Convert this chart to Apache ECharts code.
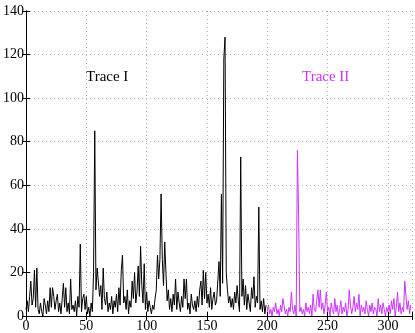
<!DOCTYPE html>
<html>
<head>
<meta charset="utf-8">
<script src="https://cdn.jsdelivr.net/npm/echarts@6/dist/echarts.min.js"></script>
<style>
html, body { margin: 0; padding: 0; background: #fff; }
#chart { width: 415px; height: 333px; }
</style>
</head>
<body>
<div id="chart"></div>
<script>
// Trace I, x = 0..199
const trace1 = [
  3, 7, 2, 9, 16, 5, 8, 21, 4, 22,
  3, 1, 6, 2, 0, 8, 5, 1, 7, 2,
  13, 4, 13, 9, 3, 7, 10, 2, 6, 1,
  8, 15, 4, 13, 2, 6, 1, 17, 3, 5,
  2, 7, 0, 9, 4, 33, 2, 8, 10, 3,
  9, 1, 4, 0, 6, 2, 20, 85, 12, 22,
  22, 9, 14, 3, 22, 8, 5, 11, 2, 6,
  3, 9, 1, 7, 4, 10, 2, 13, 5, 21,
  28, 6, 9, 3, 12, 1, 7, 4, 16, 8,
  20, 6, 11, 23, 9, 32, 14, 6, 24, 3,
  11, 2, 7, 4, 1, 5, 3, 8, 12, 28,
  17, 26, 56, 26, 14, 34, 20, 7, 12, 3,
  8, 2, 10, 5, 17, 3, 11, 6, 2, 9,
  4, 17, 8, 17, 3, 6, 1, 10, 5, 3,
  7, 2, 9, 4, 12, 16, 5, 21, 8, 20,
  6, 10, 4, 13, 3, 8, 11, 5, 7, 16,
  25, 9, 56, 15, 118, 128, 20, 12, 6, 9,
  4, 8, 3, 11, 6, 14, 7, 2, 73, 9,
  17, 5, 14, 3, 10, 6, 2, 13, 8, 18,
  4, 9, 6, 50, 3, 7, 2, 8, 1, 5
];
const trace1Start = 0;

// Trace II, x = 200..319
const trace2 = [
  2, 5, 1, 3, 0, 4, 2, 6, 1, 3,
  0, 5, 2, 8, 8, 1, 3, 0, 4, 2,
  11, 3, 1, 5, 0, 76, 46, 2, 4, 1,
  3, 0, 6, 2, 4, 1, 5, 0, 10, 3,
  2, 7, 12, 4, 12, 3, 6, 1, 5, 11,
  2, 4, 0, 6, 3, 1, 8, 2, 5, 0,
  3, 7, 1, 4, 2, 6, 0, 3, 12, 5,
  1, 4, 9, 2, 6, 3, 10, 0, 5, 2,
  4, 1, 7, 3, 0, 5, 2, 6, 1, 4,
  3, 0, 8, 2, 5, 1, 6, 3, 0, 4,
  2, 5, 1, 7, 3, 8, 0, 4, 11, 2,
  6, 1, 4, 2, 16, 9, 3, 7, 1, 5
];
const trace2Start = 200;

const xTicks = [0, 50, 100, 150, 200, 250, 300];
const yTicks = [0, 20, 40, 60, 80, 100, 120, 140];

const font = 'Liberation Serif, Times New Roman, serif';
const purple = '#cc33ff';

function pairs(vals, start) {
  return vals.map((v, i) => [start + i, v]);
}

const chart = echarts.init(document.getElementById('chart'));

const axisCommon = {
  type: 'value',
  axisLine: { show: true, lineStyle: { color: '#000', width: 1 } },
  axisTick: { show: true, inside: true, length: 4, lineStyle: { color: '#000' } }
};

chart.setOption({
  animation: false,
  grid: { left: 23, right: 3, top: 11, bottom: 15, containLabel: false },
  xAxis: [
    Object.assign({}, axisCommon, {
      min: xTicks[0], max: 320, interval: 50,
      axisLabel: { color: '#000', fontFamily: font, fontSize: 14, margin: 3,
        formatter: v => xTicks.includes(v) ? String(v) : '' },
      splitLine: { show: true, lineStyle: { color: '#b0b0b0', type: [1, 3], width: 1 } }
    }),
    Object.assign({}, axisCommon, {
      position: 'top', min: 0, max: 320, interval: 50,
      axisLabel: { show: false }, splitLine: { show: false }
    })
  ],
  yAxis: [
    Object.assign({}, axisCommon, {
      min: yTicks[0], max: yTicks[yTicks.length - 1], interval: 20,
      axisLabel: { color: '#000', fontFamily: font, fontSize: 14, margin: 2 },
      splitLine: { show: true, lineStyle: { color: '#b0b0b0', type: [1, 3], width: 1 } }
    }),
    Object.assign({}, axisCommon, {
      position: 'right', min: 0, max: 140, interval: 20,
      axisLabel: { show: false }, splitLine: { show: false }
    })
  ],
  series: [
    {
      name: 'Trace I', type: 'line', data: pairs(trace1, trace1Start),
      symbol: 'none', lineStyle: { color: '#000', width: 1 }
    },
    {
      name: 'Trace II', type: 'line', data: pairs(trace2, trace2Start),
      symbol: 'none', lineStyle: { color: purple, width: 1 }
    }
  ],
  graphic: [
    { type: 'text', left: 86, top: 70,
      style: { text: 'Trace I', fill: '#000', font: '15px ' + font } },
    { type: 'text', left: 302, top: 70,
      style: { text: 'Trace II', fill: purple, font: '15px ' + font } }
  ]
});
</script>
</body>
</html>
